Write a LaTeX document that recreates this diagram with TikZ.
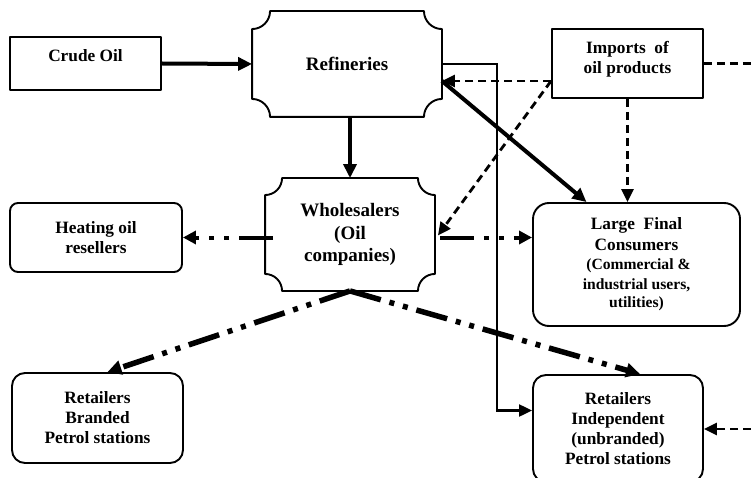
\documentclass[tikz,border=0pt]{standalone}
\usepackage{fontspec}
\setmainfont{Liberation Serif}
\usetikzlibrary{arrows.meta}
\newcommand\plaquebox[2]{\draw[boxline] ([xshift=#2]#1.north west) -- ([xshift=-#2]#1.north east) arc[start angle=180,end angle=270,radius=#2] -- ([yshift=#2]#1.south east) arc[start angle=90,end angle=180,radius=#2] -- ([xshift=#2]#1.south west) arc[start angle=0,end angle=90,radius=#2] -- ([yshift=-#2]#1.north west) arc[start angle=270,end angle=360,radius=#2] -- cycle;}
\tikzset{
  boxline/.style={line width=1.9pt, line join=round},
  box/.style={boxline, inner sep=0pt, align=center, font=\fontsize{17.3}{20}\selectfont\bfseries},
  plaque/.style={box, draw=none, font=\fontsize{19}{22.5}\selectfont\bfseries},
  bigarrow/.style={line width=4pt, -{Triangle[length=14pt,width=13pt]}},
  thinarrow/.style={line width=2.2pt, -{Triangle[length=13pt,width=12pt]}},
  dasharrow/.style={line width=2.8pt, dash pattern=on 8pt off 5pt, -{Triangle[length=13pt,width=12pt]}},
  dashline/.style={line width=2.8pt, dash pattern=on 8pt off 5pt},
  dashdot/.style={line width=5.5pt, dash pattern=on 32pt off 9pt on 5pt off 9pt on 5pt off 9pt, -{Triangle[length=14pt,width=14pt]}},
  dashdotthin/.style={line width=4pt, dash pattern=on 34pt off 10pt on 5pt off 10pt on 5pt off 10pt, -{Triangle[length=13pt,width=13pt]}}
}
\begin{document}
\begin{tikzpicture}[x=1pt,y=-1pt]
\useasboundingbox (0,0) rectangle (751,478);
\clip (0,0) rectangle (751,478);
% boxes
\node[box, draw, minimum width=151pt, minimum height=53pt, text depth=15pt] (crude) at (85.5,63.5) {Crude Oil};
\node[plaque, minimum width=188pt, minimum height=104pt] (ref) at (347,64) {Refineries};
\plaquebox{ref}{18pt}
\node[box, draw, minimum width=151pt, minimum height=69pt, text depth=12pt] (imports) at (627.5,63.5) {Imports\ \ of\\oil products};
\node[plaque, minimum width=168pt, minimum height=111pt] (whole) at (350,234.5) {Wholesalers\\(Oil\\companies)};
\plaquebox{whole}{17pt}
\node[box, draw, rounded corners=8pt, minimum width=172pt, minimum height=69pt] (heat) at (96,237.5) {Heating oil\\resellers};
\node[box, draw, rounded corners=16pt, minimum width=207pt, minimum height=123pt] (lfc) at (636.5,264.5) {Large\ \ Final\\[1pt]Consumers\\[-1pt]{\fontsize{15.6}{18}\selectfont\ (Commercial \&}\\{\fontsize{15.6}{18}\selectfont industrial users,}\\[-2pt]{\fontsize{15.6}{18}\selectfont utilities)}};
\node[box, draw, rounded corners=13pt, minimum width=171pt, minimum height=90pt] (rbrand) at (97.5,418) {Retailers\\Branded\\Petrol stations};
\node[box, draw, rounded corners=13pt, minimum width=170pt, minimum height=107pt, text depth=-5pt] (rind) at (618,428.5) {Retailers\\Independent\\(unbranded)\\Petrol stations};
% free ends
\coordinate (edgeA) at (751,63.5);
\coordinate (edgeB) at (751,429);
% connectors
\draw[bigarrow] (crude.east) -- (ref.west);
\draw[bigarrow] (whole.north |- ref.south) -- (whole.north);
\draw[thinarrow] (ref.east) -- ++(55,0) |- ([yshift=18pt]rind.west);
\draw[dasharrow] ([yshift=-17.5pt]imports.west) -- ([yshift=-17pt]ref.east);
\draw[bigarrow] ([yshift=-17pt]ref.east) -- ([xshift=-50pt]lfc.north);
\draw[dasharrow] ([yshift=-17.5pt]imports.west) -- ([xshift=3pt,yshift=-1pt]whole.east);
\draw[dasharrow] (imports.south) -- (imports.south |- lfc.north);
\draw[dashline] (imports.east) -- (edgeA);
\draw[dasharrow] (edgeB) -- (rind.east |- edgeB);
\draw[dashdotthin] ([xshift=8pt]whole.west |- heat.east) -- (heat.east);
\draw[dashdotthin] ([xshift=5pt,yshift=-3pt]whole.east) coordinate (wr) -- (lfc.west |- wr);
\draw[dashdot] (whole.south) -- ([xshift=10pt]rbrand.north);
\draw[dashdot] (whole.south) -- ([xshift=22pt]rind.north);
\end{tikzpicture}
\end{document}
